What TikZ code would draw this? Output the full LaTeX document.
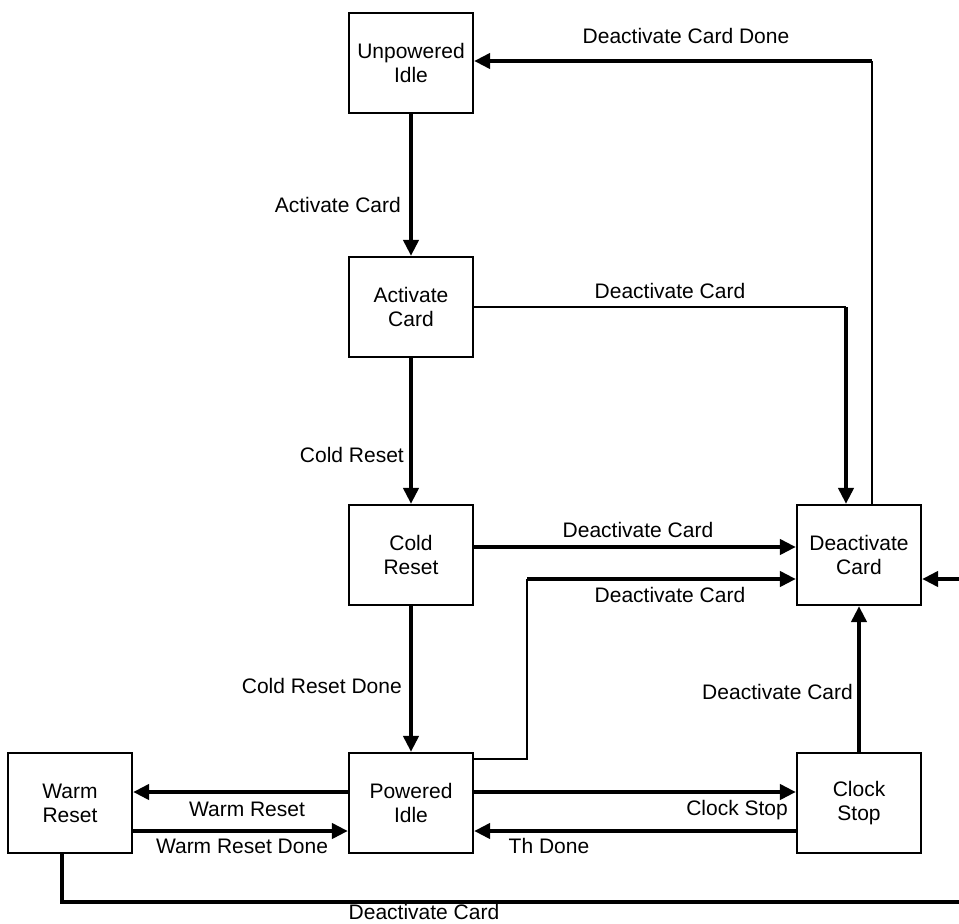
\documentclass[tikz,border=0pt]{standalone}
\usepackage{fontspec}
\setmainfont{Liberation Sans}
\usetikzlibrary{arrows.meta,calc}
\tikzset{
  state/.style={draw, line width=2.2pt, minimum width=124pt, minimum height=100pt,
    align=center, inner sep=0pt, font=\fontsize{21}{24}\selectfont},
  lbl/.style={font=\fontsize{21}{24}\selectfont, inner sep=0pt,
    text height=15pt, text depth=0pt},
  heavy/.style={line width=4pt},
  light/.style={line width=2pt},
  tip/.style={-{Triangle[length=16pt,width=15pt]}},
}
\begin{document}
\begin{tikzpicture}[x=1pt,y=-1pt]
\useasboundingbox (0,0) rectangle (959,924);
\clip (0,0) rectangle (959,924);

% states
\node[state] (ui) at (411,63)  {Unpowered\\Idle};
\node[state] (ac) at (411,307) {Activate\\Card};
\node[state] (cr) at (411,555) {Cold\\Reset};
\node[state] (pi) at (411,803) {Powered\\Idle};
\node[state] (wr) at (70,803)  {Warm\\Reset};
\node[state] (dc) at (859,555) {Deactivate\\Card};
\node[state] (cs) at (859,803) {Clock\\Stop};

% main activation chain
\draw[heavy,tip] (ui.south) -- (ac.north);
\draw[heavy,tip] (ac.south) -- (cr.north);
\draw[heavy,tip] (cr.south) -- (pi.north);

% activate card -> deactivate card
\coordinate (a1) at ($(dc.north)+(-13,0)$);
\coordinate (a2) at (ac.east -| a1);
\draw[light] (ac.east) -- (a2);
\draw[heavy,tip] (a2) -- (a1);

% deactivate card done -> unpowered idle
\coordinate (b1) at ($(dc.north)+(13,0)$);
\coordinate (b2) at ($(b1 |- ui.east)+(0,-2)$);
\coordinate (b3) at ($(ui.east)+(0,-2)$);
\draw[light] (b1) -- (b2);
\draw[heavy,tip] (b2) -- (b3);

% cold reset -> deactivate card
\coordinate (c1) at ($(cr.east)+(0,-8)$);
\coordinate (c2) at (c1 -| dc.west);
\draw[heavy,tip] (c1) -- (c2);

% powered idle -> deactivate card
\coordinate (p0) at ($(pi.east)+(0,-44)$);
\coordinate (p2) at ($(pi.east)+(53,0)$);
\coordinate (p3) at ($(dc.west)+(0,24)$);
\coordinate (p4) at (p2 |- p3);
\draw[light] (p0) -| (p4);
\draw[heavy,tip] (p4) -- (p3);

% clock stop -> deactivate card
\draw[heavy,tip] (cs.north) -- (dc.south);

% powered idle <-> clock stop
\coordinate (s1) at ($(pi.east)+(0,-11)$);
\coordinate (s2) at (s1 -| cs.west);
\draw[heavy,tip] (s1) -- (s2);
\coordinate (t1) at ($(cs.west)+(0,28)$);
\coordinate (t2) at (t1 -| pi.east);
\draw[heavy,tip] (t1) -- (t2);

% powered idle <-> warm reset
\coordinate (r1) at ($(pi.west)+(0,-11)$);
\coordinate (r2) at (r1 -| wr.east);
\draw[heavy,tip] (r1) -- (r2);
\coordinate (q1) at ($(wr.east)+(0,28)$);
\coordinate (q2) at (q1 -| pi.west);
\draw[heavy,tip] (q1) -- (q2);

% warm reset -> deactivate card, routed round the bottom
\coordinate (w0) at ($(wr.south)+(-8,0)$);
\coordinate (w2) at (985,902);
\coordinate (w3) at ($(dc.east)+(0,24)$);
\draw[heavy,tip] (w0) |- (w2) |- (w3);

% transition labels
\node[lbl] (l1)  at (686,36)  {Deactivate Card Done};
\node[lbl,anchor=east] (l2) at (401,205) {Activate Card};
\node[lbl] (l3)  at (670,291) {Deactivate Card};
\node[lbl,anchor=east] (l4) at (404,455) {Cold Reset};
\node[lbl] (l5)  at (638,530) {Deactivate Card};
\node[lbl] (l6)  at (670,595) {Deactivate Card};
\node[lbl,anchor=east] (l7) at (402,686) {Cold Reset Done};
\node[lbl,anchor=east] (l8) at (853,692) {Deactivate Card};
\node[lbl] (l9)  at (247,809) {Warm Reset};
\node[lbl] (l10) at (242,846) {Warm Reset Done};
\node[lbl,anchor=east] (l11) at (788,808) {Clock Stop};
\node[lbl] (l12) at (549,846) {Th Done};
\node[lbl] (l13) at (424,912) {Deactivate Card};
\end{tikzpicture}
\end{document}
